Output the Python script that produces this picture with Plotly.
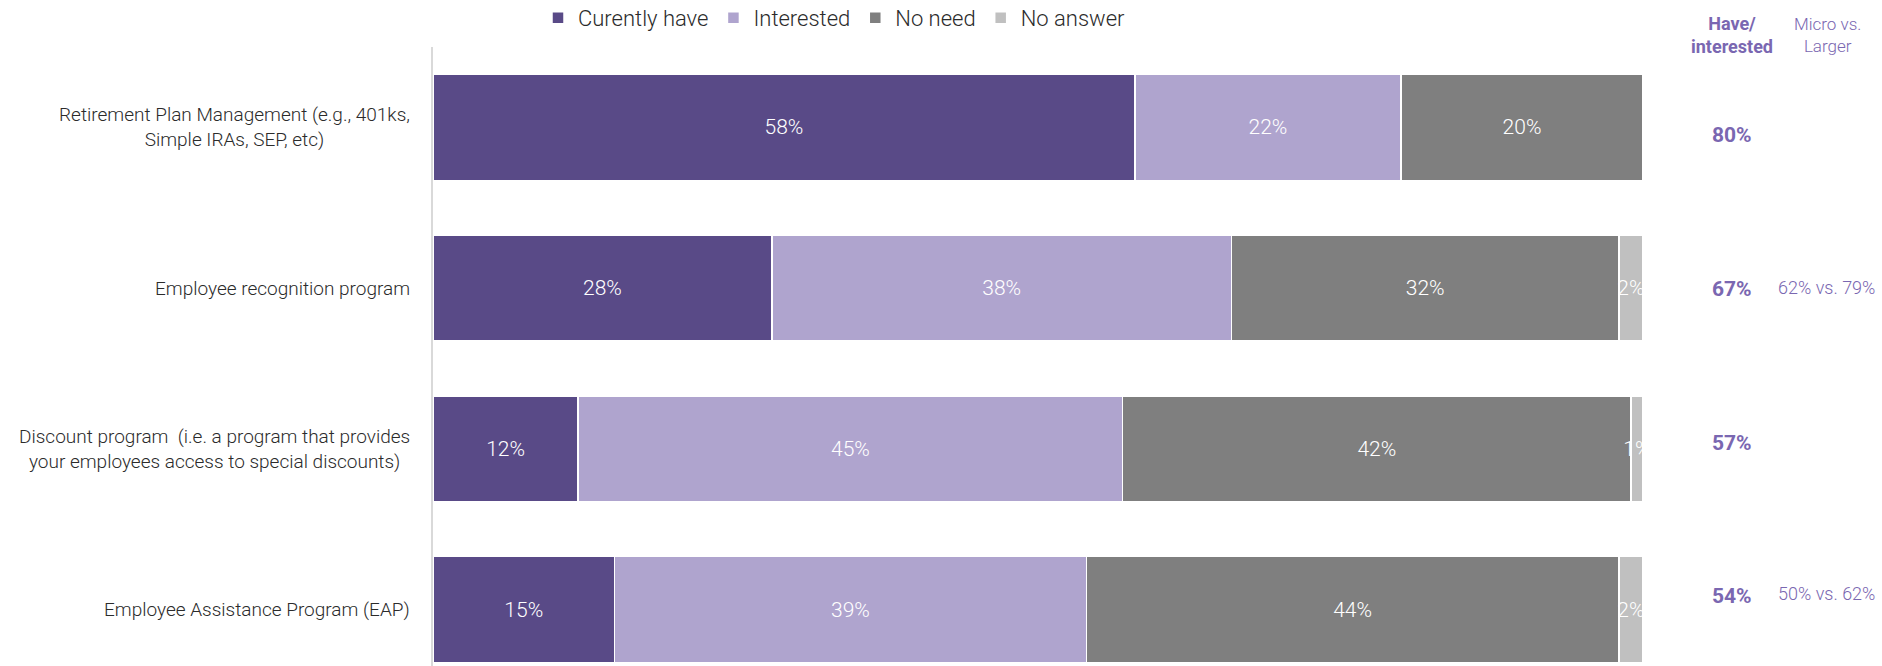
import plotly.graph_objects as go

categories = [
    "Retirement Plan Management (e.g., 401ks,<br>Simple IRAs, SEP, etc)",
    "Employee recognition program",
    "Discount program  (i.e. a program that provides<br>your employees access to special discounts)",
    "Employee Assistance Program (EAP)",
]
series_names = ["Curently have", "Interested", "No need", "No answer"]
currently_have = [58, 28, 12, 15]
interested = [22, 38, 45, 39]
no_need = [20, 32, 42, 44]
no_answer = [0, 2, 1, 2]
have_interested = ["80%", "67%", "57%", "54%"]
micro_vs_larger = ["", "62% vs. 79%", "", "50% vs. 62%"]

colors = ["#594a87", "#afa4ce", "#7f7f7f", "#c0c0c0"]
ACCENT = "#7a67b1"
FONT = "Roboto"
W, H = 1882, 666
ML, MR, MT, MB = 433, 239, 47, 0

fig = go.Figure()
for name, vals, col in zip(series_names, [currently_have, interested, no_need, no_answer], colors):
    fig.add_trace(go.Bar(
        name=name,
        y=categories,
        x=vals,
        orientation="h",
        marker=dict(color=col, line=dict(color="white", width=1.5)),
        text=[f"{v}%" if v > 0 else "" for v in vals],
        textposition="inside",
        insidetextanchor="middle",
        textangle=0,
        constraintext="none",
        textfont=dict(color="white", size=21, family=FONT, weight=300),
        cliponaxis=True,
        hoverinfo="skip",
    ))

annotations = []
# category labels (centered lines, right edge near axis)
for c in categories:
    annotations.append(dict(
        x=0, xref="paper", xanchor="right", xshift=-21,
        y=c, yref="y", yanchor="middle",
        text=c, showarrow=False, align="center",
        font=dict(size=19, color="#2b2b2b", family=FONT, weight=300),
    ))

# right side headers
px = lambda xpix: (xpix - ML) / (W - ML - MR)
annotations.append(dict(
    x=px(1732), xref="paper", xanchor="center",
    y=1, yref="paper", yanchor="middle", yshift=12,
    text="<b>Have/<br>interested</b>", showarrow=False, align="center",
    font=dict(size=18, color=ACCENT, family=FONT),
))
annotations.append(dict(
    x=px(1827), xref="paper", xanchor="center",
    y=1, yref="paper", yanchor="middle", yshift=12,
    text="Micro vs.<br>Larger", showarrow=False, align="center",
    font=dict(size=17, color=ACCENT, family=FONT, weight=300),
))
yshifts = [-8, -1, 6, 14]
for c, hv, mv, ys in zip(categories, have_interested, micro_vs_larger, yshifts):
    annotations.append(dict(
        x=px(1732), xref="paper", xanchor="center",
        y=c, yref="y", yanchor="middle", yshift=ys,
        text=f"<b>{hv}</b>", showarrow=False,
        font=dict(size=21, color=ACCENT, family=FONT),
    ))
    if mv:
        annotations.append(dict(
            x=px(1826), xref="paper", xanchor="center",
            y=c, yref="y", yanchor="middle", yshift=ys + 2,
            text=mv, showarrow=False,
            font=dict(size=18, color=ACCENT, family=FONT, weight=300),
        ))

fig.update_layout(
    width=W, height=H,
    margin=dict(l=ML, r=MR, t=MT, b=MB),
    barmode="stack",
    bargap=0.34,
    plot_bgcolor="white",
    paper_bgcolor="white",
    font=dict(family=FONT, color="#333333"),
    xaxis=dict(range=[0, 100], visible=False, fixedrange=True),
    yaxis=dict(
        type="category",
        categoryorder="array", categoryarray=categories,
        range=[3.35, -0.5],
        showticklabels=False, ticks="",
        showline=True, linecolor="#d9d9d9", linewidth=2,
        showgrid=False, zeroline=False, fixedrange=True,
    ),
    legend=dict(
        orientation="h",
        x=(538 - ML) / (W - ML - MR), xanchor="left",
        y=1 - 18 / H, yanchor="middle", yref="container",
        font=dict(size=22, color="#2b2b2b", family=FONT, weight=300),
        itemwidth=30,
        traceorder="normal",
        bgcolor="rgba(0,0,0,0)",
    ),
    uniformtext=dict(minsize=21, mode="show"),
    annotations=annotations,
    showlegend=True,
)

fig.write_html(
    "out.html",
    config={"displayModeBar": False},
    post_script="document.body.style.margin='0';",
)
